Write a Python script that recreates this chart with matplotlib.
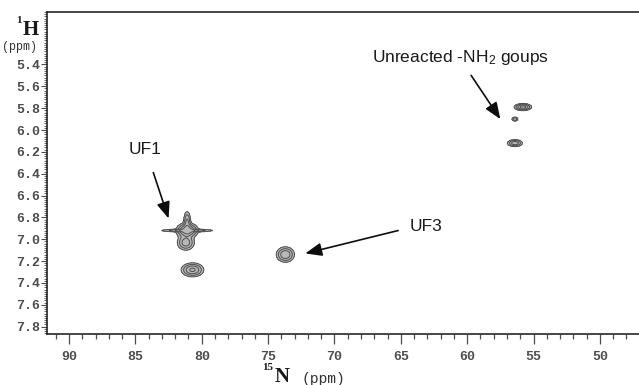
import numpy as np
import matplotlib
matplotlib.use("Agg")
import matplotlib.pyplot as plt
from matplotlib.ticker import MultipleLocator

plt.rcParams["mathtext.fontset"] = "custom"
plt.rcParams["mathtext.rm"] = "Liberation Sans"
plt.rcParams["mathtext.it"] = "Liberation Sans:italic"

# cross peaks: 15N shift, 1H shift, widths (ppm), relative height
peak_n = [81.1, 81.2, 80.7, 73.7, 55.8, 56.4, 56.4]
peak_h = [6.92, 7.03, 7.28, 7.14, 5.79, 5.90, 6.12]
sig_n = [0.38, 0.32, 0.40, 0.33, 0.30, 0.13, 0.28]
sig_h = [0.032, 0.035, 0.030, 0.034, 0.015, 0.011, 0.016]
amp = [1.0, 0.6, 0.8, 0.7, 0.9, 0.35, 0.6]

# ridges around the main UF1 peak (horizontal and vertical)
streak_n = [81.1, 81.1]
streak_h = [6.92, 6.84]
streak_sn = [1.0, 0.14]
streak_sh = [0.007, 0.05]
streak_amp = [0.5, 0.45]

n_ticks = [90, 85, 80, 75, 70, 65, 60, 55, 50]
h_ticks = [5.4, 5.6, 5.8, 6.0, 6.2, 6.4, 6.6, 6.8, 7.0, 7.2, 7.4, 7.6, 7.8]

labels = ["UF1", "UF3", "Unreacted -NH$_2$ goups"]
label_xy = [(84.3, 6.18), (63.1, 6.88), (60.5, 5.34)]
arrow_from = [(83.65, 6.39), (65.2, 6.92), (59.7, 5.50)]
arrow_to = [(82.5, 6.81), (72.2, 7.13), (57.5, 5.90)]

fig = plt.figure(figsize=(6.39, 3.85), dpi=100)
ax = fig.add_axes([0.0736, 0.1325, 0.9264, 0.8363])

nn = np.linspace(46, 93, 1200)
hh = np.linspace(4.8, 8.0, 900)
N, H = np.meshgrid(nn, hh)
Z = np.zeros_like(N)
for x0, y0, sx, sy, a in zip(peak_n, peak_h, sig_n, sig_h, amp):
    Z += a * np.exp(-((N - x0) ** 2) / (2 * sx ** 2) - ((H - y0) ** 2) / (2 * sy ** 2))
for x0, y0, sx, sy, a in zip(streak_n, streak_h, streak_sn, streak_sh, streak_amp):
    Z += a * np.exp(-((N - x0) ** 2) / (2 * sx ** 2) - ((H - y0) ** 2) / (2 * sy ** 2))

levels = [0.08, 0.2, 0.4, 0.7]
ax.contourf(N, H, Z, levels=[0.08, 5], colors=["0.72"])
ax.contour(N, H, Z, levels=levels, colors="0.3", linewidths=0.7)

ax.set_xlim(91.66, 47.05)
ax.set_ylim(7.867, 4.92)

for lab, xy, p0, p1 in zip(labels, label_xy, arrow_from, arrow_to):
    ax.text(xy[0], xy[1], lab, ha="center", va="center", fontsize=12.5,
            family="Liberation Sans", color="0.1")
    ax.annotate("", xy=p1, xytext=p0,
                arrowprops=dict(arrowstyle="-|>,head_length=1.0,head_width=0.4",
                                color="0.05", lw=1.2, shrinkA=0, shrinkB=0))

ax.spines["right"].set_visible(False)
for s in ["top", "left", "bottom"]:
    ax.spines[s].set_linewidth(1.2)
    ax.spines[s].set_color("0.15")

ax.set_xticks(n_ticks)
ax.set_xticklabels([str(v) for v in n_ticks])
ax.xaxis.set_minor_locator(MultipleLocator(1))
ax.set_yticks(h_ticks)
ax.set_yticklabels(["%.1f" % v for v in h_ticks])
ax.yaxis.set_minor_locator(MultipleLocator(0.02))

ax.tick_params(axis="x", which="major", direction="out", length=7, width=0.9,
               color="0.3", pad=5, labelsize=9.5, labelcolor="0.3")
ax.tick_params(axis="x", which="minor", direction="out", length=3.5, width=0.9, color="0.3")
ax.tick_params(axis="y", which="major", direction="out", length=4, width=0.8,
               color="0.3", pad=1, labelsize=9.5, labelcolor="0.3")
ax.tick_params(axis="y", which="minor", direction="out", length=2.5, width=0.6, color="0.3")
for t in ax.get_xticklabels() + ax.get_yticklabels():
    t.set_family("Liberation Mono")
    t.set_fontweight("bold")

# axis titles: superscript mass numbers drawn as separate small texts
fig.text(0.026, 0.948, "1", family="Liberation Serif", fontweight="bold",
         fontsize=8, ha="left", va="center", color="0.1")
fig.text(0.036, 0.922, "H", family="Liberation Serif", fontweight="bold",
         fontsize=15, ha="left", va="center", color="0.1")
fig.text(0.003, 0.878, "(ppm)", family="Liberation Mono", fontsize=8.5,
         ha="left", va="center", color="0.2")
fig.text(0.410, 0.045, "15", family="Liberation Serif", fontweight="bold",
         fontsize=8, ha="left", va="center", color="0.1")
fig.text(0.430, 0.022, "N", family="Liberation Serif", fontweight="bold",
         fontsize=15, ha="left", va="center", color="0.1")
fig.text(0.472, 0.016, "(ppm)", family="Liberation Mono", fontsize=10.5,
         ha="left", va="center", color="0.2")

fig.savefig("out.png", dpi=100)
